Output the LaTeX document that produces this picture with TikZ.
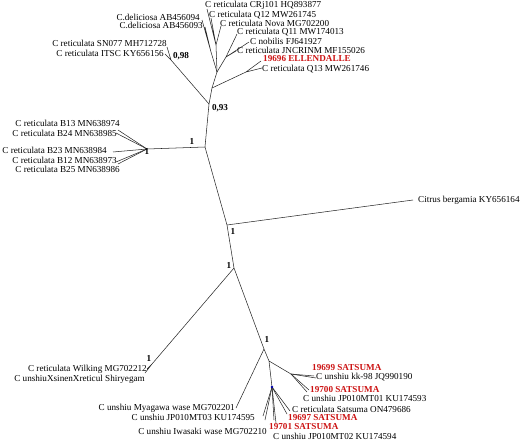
\documentclass[tikz,border=0pt]{standalone}
\usepackage{fontspec}
\setmainfont{Liberation Serif}
\usetikzlibrary{positioning}
\definecolor{satred}{RGB}{204,20,20}
\tikzset{
  branch/.style={draw=black!85, line width=0.45pt},
  leaf/.style={inner sep=0pt, font=\fontsize{7.8}{9}\selectfont},
  ownleaf/.style={leaf, text=satred, font=\fontsize{7.8}{9}\selectfont\bfseries},
  support/.style={inner sep=0pt, font=\fontsize{7.8}{9}\selectfont\bfseries}
}

\begin{document}
\begin{tikzpicture}[x=0.03cm,y=-0.03cm]
  \useasboundingbox (0,0) rectangle (523,443);
  % backbone
  \coordinate (bn) at (147,149);
  \coordinate (b)  at (205,147);
  \coordinate (a)  at (209,104);
  \coordinate (c)  at (227,225);
  \coordinate (d)  at (234,268);
  \coordinate (e)  at (264,349);
  \draw[branch] (bn) -- (b) -- (a);
  \draw[branch] (b) -- (c) -- (d) -- (e);
  % top cluster
  \coordinate (p) at (171,60);
  \coordinate (k) at (212,88);
  \coordinate (l) at (246,72);
  \coordinate (m) at (217,72);
  \coordinate (r) at (211,52);
  \coordinate (s) at (216,45);
  \coordinate (n) at (226,57);
  \coordinate (tSN)   at (167,47);
  \coordinate (tITSC) at (165,54);
  \coordinate (tEll)  at (261,61);
  \coordinate (tQ13)  at (262,68);
  \coordinate (tD94)  at (202,20);
  \coordinate (tD93)  at (205,27);
  \coordinate (tCRj)  at (207,9);
  \coordinate (tQ12)  at (211,18);
  \coordinate (tNova) at (221,26);
  \coordinate (tQ11)  at (237,34);
  \coordinate (tNob)  at (249,42);
  \coordinate (tJN)   at (236,51);
  \draw[branch] (a) -- (p) (p) -- (tSN) (p) -- (tITSC);
  \draw[branch] (a) -- (k) -- (m);
  \draw[branch] (k) -- (l) (l) -- (tEll) (l) -- (tQ13);
  \draw[branch] (m) -- (r) (r) -- (tD94) (r) -- (tD93);
  \draw[branch] (m) -- (s) (s) -- (tCRj) (s) -- (tQ12) (s) -- (tNova);
  \draw[branch] (m) -- (n) (n) -- (tQ11) (n) -- (tNob) (n) -- (tJN);
  \node[leaf, anchor=west] (lCRj)  at (205,5)  {C reticulata CRj101 HQ893877};
  \node[leaf, anchor=west] (lQ12)  at (209,15) {C reticulata Q12 MW261745};
  \node[leaf, anchor=west] (lNova) at (220,23) {C reticulata Nova MG702200};
  \node[leaf, anchor=west] (lQ11)  at (237,32) {C reticulata Q11 MW174013};
  \node[leaf, anchor=west] (lNob)  at (250,41) {C nobilis FJ641927};
  \node[leaf, anchor=west] (lJN)   at (237,50) {C reticulata JNCRINM MF155026};
  \node[ownleaf, anchor=west] (lEll) at (263,59) {19696 ELLENDALLE};
  \node[leaf, anchor=west] (lQ13)  at (262,69) {C reticulata Q13 MW261746};
  \node[leaf, anchor=east] (lD94)  at (200,17) {C.deliciosa AB456094};
  \node[leaf, anchor=east] (lD93)  at (203,25) {C.deliciosa AB456093};
  \node[leaf, anchor=east] (lSN)   at (167,43) {C reticulata SN077 MH712728};
  \node[leaf, anchor=east] (lITSC) at (164,53) {C reticulata ITSC KY656156};
  \node[support] (s098) at (181,56)  {0,98};
  \node[support] (s093) at (220,108) {0,93};
  % B cluster
  \coordinate (tB13) at (118,130);
  \coordinate (tB24) at (116,133);
  \coordinate (tB23) at (113,152);
  \coordinate (tB12) at (116,162);
  \coordinate (tB25) at (118,164);
  \foreach \t in {tB13,tB24,tB23,tB12,tB25}
    \draw[branch] (bn) -- (\t);
  \node[leaf, anchor=east] (lB13) at (120,123) {C reticulata B13 MN638974};
  \node[leaf, anchor=east] (lB24) at (117,133) {C reticulata B24 MN638985};
  \node[leaf, anchor=east] (lB23) at (107,150) {C reticulata B23 MN638984};
  \node[leaf, anchor=east] (lB12) at (117,160) {C reticulata B12 MN638973};
  \node[leaf, anchor=east] (lB25) at (120,169) {C reticulata B25 MN638986};
  \node[support] (sbn) at (147,151) {1};
  \node[support] (sb)  at (192,141) {1};
  % outgroup
  \coordinate (tCit) at (413,200);
  \draw[branch] (c) -- (tCit);
  \node[leaf, anchor=west] (lCit) at (418,200) {Citrus bergamia KY656164};
  \node[support] (sc) at (233,231) {1};
  % Wilking pair
  \coordinate (w)    at (152,364);
  \coordinate (tWil) at (147,369);
  \coordinate (tShi) at (145,373);
  \draw[branch] (d) -- (w) (w) -- (tWil) (w) -- (tShi);
  \node[leaf, anchor=east] (lWil) at (147,369) {C reticulata Wilking MG702212};
  \node[leaf, anchor=east] (lShi) at (145,379) {C unshiuXsinenXreticul Shiryegam};
  \node[support] (sd) at (229,265) {1};
  \node[support] (sw) at (149,358) {1};
  % satsuma cluster
  \coordinate (g) at (269,361);
  \coordinate (h) at (291,374);
  \coordinate (i) at (272,387);
  \coordinate (tMya)   at (236,408);
  \coordinate (t19699) at (314,376);
  \coordinate (tKK)    at (316,378);
  \coordinate (t19700) at (309,390);
  \coordinate (tMT01)  at (307,392);
  \coordinate (tMT03)  at (263,416);
  \coordinate (tIwa)   at (265,420);
  \coordinate (t19701) at (274,420);
  \coordinate (tMT02)  at (276,423);
  \coordinate (tCS)    at (290,411);
  \coordinate (t19697) at (287,414);
  \draw[branch] (e) -- (tMya) (e) -- (g) -- (i) (g) -- (h);
  \foreach \t in {t19699,tKK,t19700,tMT01}
    \draw[branch] (h) -- (\t);
  \foreach \t in {tMT03,tIwa,t19701,tMT02,tCS,t19697}
    \draw[branch] (i) -- (\t);
  \fill[blue!70!black] (i) circle [radius=1.3];
  \node[support] (se) at (267,339) {1};
  \node[leaf, anchor=east] (lMya)  at (235,408) {C unshiu Myagawa wase MG702201};
  \node[leaf, anchor=east] (lMT03) at (255,417) {C unshiu JP010MT03 KU174595};
  \node[leaf, anchor=east] (lIwa)  at (267,431) {C unshiu Iwasaki wase MG702210};
  \node[ownleaf, anchor=west] (l19699) at (312,368) {19699 SATSUMA};
  \node[leaf, anchor=west] (lKK)      at (316,377) {C unshiu kk-98 JQ990190};
  \node[ownleaf, anchor=west] (l19700) at (310,390) {19700 SATSUMA};
  \node[leaf, anchor=west] (lMT01)    at (303,398) {C unshiu JP010MT01 KU174593};
  \node[leaf, anchor=west] (lCS)      at (292,409) {C reticulata Satsuma ON479686};
  \node[ownleaf, anchor=west] (l19697) at (288,418) {19697 SATSUMA};
  \node[ownleaf, anchor=west] (l19701) at (269,427) {19701 SATSUMA};
  \node[leaf, anchor=west] (lMT02)    at (273,436) {C unshiu JP010MT02 KU174594};
\end{tikzpicture}
\end{document}
